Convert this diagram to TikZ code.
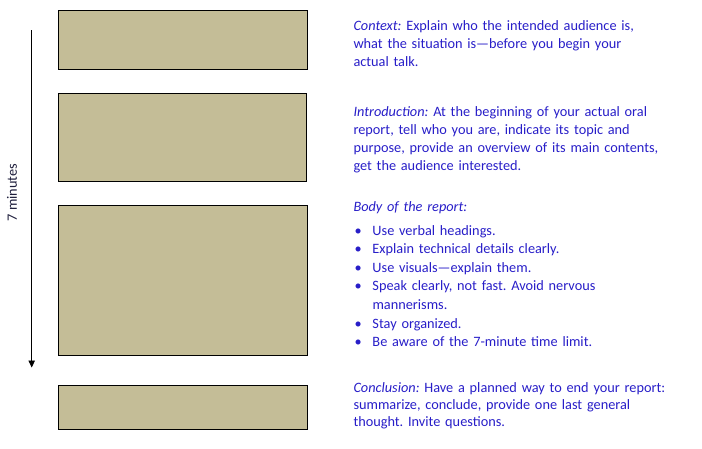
\documentclass[tikz,border=0pt]{standalone}
\usepackage{fontspec}
\setmainfont{Carlito}
\usetikzlibrary{arrows.meta}
\definecolor{boxfill}{RGB}{196,189,151}
\definecolor{txtblue}{RGB}{40,30,200}
\tikzset{
  stagebox/.style={draw=black, line width=1pt, fill=boxfill, rectangle, anchor=north west, inner sep=0pt},
  desc/.style={anchor=base west, inner sep=0pt, text width=340pt, align=left, text=txtblue,
    font=\fontsize{14.3}{17.9}\selectfont\frenchspacing},
  timeline/.style={line width=0.9pt, -{Triangle[width=6.5pt,length=7pt]}},
}
\newcommand{\bitem}[1]{\par\hangindent=19pt\hangafter=1\noindent\makebox[19pt][l]{\hspace{1.2pt}\textbullet}#1}
\begin{document}
\begin{tikzpicture}[x=1pt,y=-1pt]
\useasboundingbox (0,0) rectangle (702,448);
\node[stagebox, minimum width=249pt, minimum height=58.4pt] (b1) at (58.3,10.3) {};
\node[stagebox, minimum width=248pt, minimum height=87.4pt] (b2) at (58.3,93.3) {};
\node[stagebox, minimum width=249pt, minimum height=150.3pt] (b3) at (58.3,205) {};
\node[stagebox, minimum width=248.4pt, minimum height=44pt] (b4) at (58.3,385.3) {};
\coordinate (ttop) at (31.7,30);
\coordinate (tend) at (31.7,367.5);
\draw[timeline] (ttop) -- (tend);
\node[rotate=90, inner sep=0pt, font=\fontsize{14.3}{17.9}\selectfont, text={rgb,255:red,30;green,30;blue,60}] (tlabel) at (12,192.5) {7 minutes};
\node[desc] (context) at (353.3,30.5) {\textit{Context:} Explain who the intended audience is,\\
what the situation is---before you begin your\\
actual talk.};
\node[desc] (intro) at (353.3,116.7) {\textit{Introduction:} At the beginning of your actual oral\\
report, tell who you are, indicate its topic and\\
purpose, provide an overview of its main contents,\\
get the audience interested.};
\node[desc] (body) at (353.3,211.7) {\textit{Body of the report:}\par\vspace{4.7pt}\baselineskip=18.6pt
\bitem{Use verbal headings.}
\bitem{Explain technical details clearly.}
\bitem{Use visuals---explain them.}
\bitem{Speak clearly, not fast. Avoid nervous\newline mannerisms.}
\bitem{Stay organized.}
\bitem{Be aware of the 7-minute time limit.}\par};
\node[desc, font=\fontsize{14.3}{17}\selectfont\frenchspacing] (concl) at (353.3,392) {\textit{Conclusion:} Have a planned way to end your report:\\
summarize, conclude, provide one last general\\
thought. Invite questions.};
\end{tikzpicture}
\end{document}
